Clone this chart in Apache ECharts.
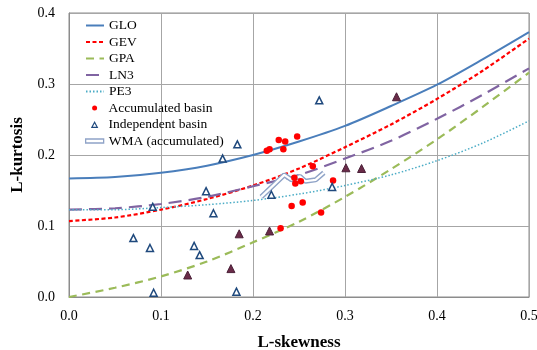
<!DOCTYPE html>
<html>
<head>
<meta charset="utf-8">
<script src="https://cdn.jsdelivr.net/npm/echarts@6/dist/echarts.min.js"></script>
<style>html,body{margin:0;padding:0;background:#fff}#c{width:537px;height:350px}</style>
</head>
<body>
<div id="c"></div>
<script>
// L-skewness grid for theoretical curves
const skewGrid = [0, 0.05, 0.1, 0.15, 0.2, 0.25, 0.3, 0.35, 0.4, 0.45, 0.5];
const gloKurt = [0.167, 0.169, 0.175, 0.185, 0.200, 0.219, 0.241, 0.269, 0.299, 0.335, 0.373];
const gevKurt = [0.107, 0.112, 0.123, 0.138, 0.157, 0.181, 0.211, 0.243, 0.279, 0.319, 0.364];
const gpaKurt = [0.000, 0.013, 0.029, 0.050, 0.077, 0.106, 0.141, 0.180, 0.222, 0.268, 0.316];
const ln3Kurt = [0.123, 0.125, 0.131, 0.141, 0.156, 0.172, 0.195, 0.220, 0.251, 0.285, 0.322];
const pe3Kurt = [0.123, 0.123, 0.126, 0.130, 0.136, 0.145, 0.157, 0.172, 0.192, 0.217, 0.248];

// Accumulated basins [L-skewness, L-kurtosis]
const accumulated = [
  [0.215, 0.206], [0.218, 0.208], [0.228, 0.221], [0.235, 0.219], [0.248, 0.226],
  [0.233, 0.208], [0.265, 0.184], [0.245, 0.168], [0.252, 0.163], [0.246, 0.160],
  [0.287, 0.164], [0.242, 0.128], [0.254, 0.133], [0.274, 0.119], [0.230, 0.097]
];
// Independent basins
const independent = [
  [0.272, 0.277], [0.183, 0.215], [0.167, 0.195], [0.149, 0.149], [0.220, 0.144],
  [0.286, 0.155], [0.157, 0.118], [0.091, 0.127], [0.070, 0.083], [0.088, 0.069],
  [0.136, 0.072], [0.142, 0.059], [0.092, 0.006], [0.182, 0.0075]
];
// Overlapping (dark filled triangles)
const overlapping = [
  [0.356, 0.282], [0.301, 0.182], [0.318, 0.181], [0.185, 0.089],
  [0.218, 0.093], [0.176, 0.040], [0.129, 0.031]
];
// WMA (accumulated)
const wma = [
  [0.209, 0.141], [0.234, 0.172], [0.242, 0.165], [0.251, 0.170],
  [0.257, 0.163], [0.268, 0.165], [0.277, 0.175]
];
const xTicks = ['0.0', '0.1', '0.2', '0.3', '0.4', '0.5'];
const yTicks = ['0.0', '0.1', '0.2', '0.3', '0.4'];

const FONT = 'Liberation Serif';
const pair = (ys) => skewGrid.map((x, i) => [x, ys[i]]);
const curve = (name, ys, color, width, type) => ({
  name, type: 'line', data: pair(ys), symbol: 'none', smooth: 0.3, z: 2,
  lineStyle: { color, width, type }, itemStyle: { color }
});

const chart = echarts.init(document.getElementById('c'), null, { renderer: 'canvas' });
const WMA_COLOR = '#8FA3C7';
const TRI_COLOR = '#1F497D';
const legendText = { fontFamily: FONT, fontSize: 13.5, color: '#000', lineHeight: 14 };
chart.setOption({
  animation: false,
  backgroundColor: '#fff',
  textStyle: { fontFamily: FONT },
  grid: { left: 69, right: 8, top: 13, bottom: 53, outerBoundsMode: 'none', containLabel: false,
    show: true, borderColor: '#8C8C8C', borderWidth: 1 },
  xAxis: {
    type: 'value', min: 0, max: 0.5, interval: 0.1,
    name: 'L-skewness', nameLocation: 'middle', nameGap: 37,
    nameTextStyle: { fontFamily: FONT, fontWeight: 'bold', fontSize: 17, color: '#000' },
    axisLine: { show: true, lineStyle: { color: '#8C8C8C', width: 1 } },
    axisTick: { show: false },
    axisLabel: { margin: 12, fontFamily: FONT, fontSize: 14, color: '#000',
      formatter: (v) => xTicks[Math.round(v * 10)] },
    splitLine: { show: true, lineStyle: { color: '#A6A6A6', width: 1 } }
  },
  yAxis: {
    type: 'value', min: 0, max: 0.4, interval: 0.1,
    name: 'L-kurtosis', nameLocation: 'middle', nameGap: 43, nameRotate: 90,
    nameTextStyle: { fontFamily: FONT, fontWeight: 'bold', fontSize: 17, color: '#000' },
    axisLine: { show: true, lineStyle: { color: '#8C8C8C', width: 1 } },
    axisTick: { show: false },
    axisLabel: { margin: 14, fontFamily: FONT, fontSize: 14, color: '#000',
      formatter: (v) => yTicks[Math.round(v * 10)] },
    splitLine: { show: true, lineStyle: { color: '#A6A6A6', width: 1 } }
  },
  legend: [
    {
      data: ['GLO', 'GEV', 'GPA', 'LN3', 'PE3'],
      orient: 'vertical', left: 85, top: 18.5, padding: 0, itemWidth: 18, itemHeight: 14, itemGap: 2.5,
      itemStyle: { opacity: 0 },
      textStyle: legendText
    },
    {
      data: [
        { name: 'Accumulated basin',
          icon: 'path://M0,0M18,7M6.5,3.5A2.5,2.5 0 1 1 11.5,3.5A2.5,2.5 0 1 1 6.5,3.5Z',
          itemStyle: { color: '#FF0000', borderWidth: 0 } },
        { name: 'Independent basin',
          icon: 'path://M0,0M18,7M6.3,6.2L9,1.2L11.7,6.2Z',
          itemStyle: { color: '#fff', borderColor: TRI_COLOR, borderWidth: 1.2 } }
      ],
      orient: 'vertical', left: 85, top: 101, padding: 0, itemWidth: 18, itemHeight: 7, itemGap: 2.6,
      textStyle: legendText
    },
    {
      data: [{ name: 'WMA (accumulated)', icon: 'path://M0,0H18V4H0Z',
        itemStyle: { color: '#fff', borderColor: WMA_COLOR, borderWidth: 1.3 } }],
      orient: 'vertical', left: 85, top: 134, padding: 0, itemWidth: 18, itemHeight: 4,
      textStyle: legendText
    }
  ],
  series: [
    curve('GLO', gloKurt, '#4A7EBB', 2, 'solid'),
    curve('GEV', gevKurt, '#FF0000', 2.2, [4, 2.5]),
    curve('GPA', gpaKurt, '#9BBB59', 2.2, [8, 5.5]),
    curve('LN3', ln3Kurt, '#8064A2', 2.2, [13, 7]),
    curve('PE3', pe3Kurt, '#4BACC6', 1.5, [1.5, 2]),
    {
      name: 'WMA (accumulated)', type: 'line', data: wma, symbol: 'none', z: 3,
      lineStyle: { color: WMA_COLOR, width: 5 }, itemStyle: { color: WMA_COLOR }
    },
    {
      name: 'WMA inner', type: 'line', data: wma, symbol: 'none', z: 3,
      lineStyle: { color: '#fff', width: 2.2 }
    },
    {
      name: 'Accumulated basin', type: 'scatter', data: accumulated, z: 5,
      symbol: 'circle', symbolSize: 6.5, itemStyle: { color: '#FF0000', opacity: 1 }
    },
    {
      name: 'Independent basin', type: 'scatter', data: independent, z: 5,
      symbol: 'triangle', symbolSize: 7,
      itemStyle: { color: '#fff', borderColor: TRI_COLOR, borderWidth: 1.5, opacity: 1 }
    },
    {
      name: 'Overlap', type: 'scatter', data: overlapping, z: 5,
      symbol: 'triangle', symbolSize: 8,
      itemStyle: { color: '#6A2B48', borderColor: '#4A2038', borderWidth: 1, opacity: 1 }
    }
  ]
});
</script>
</body>
</html>
